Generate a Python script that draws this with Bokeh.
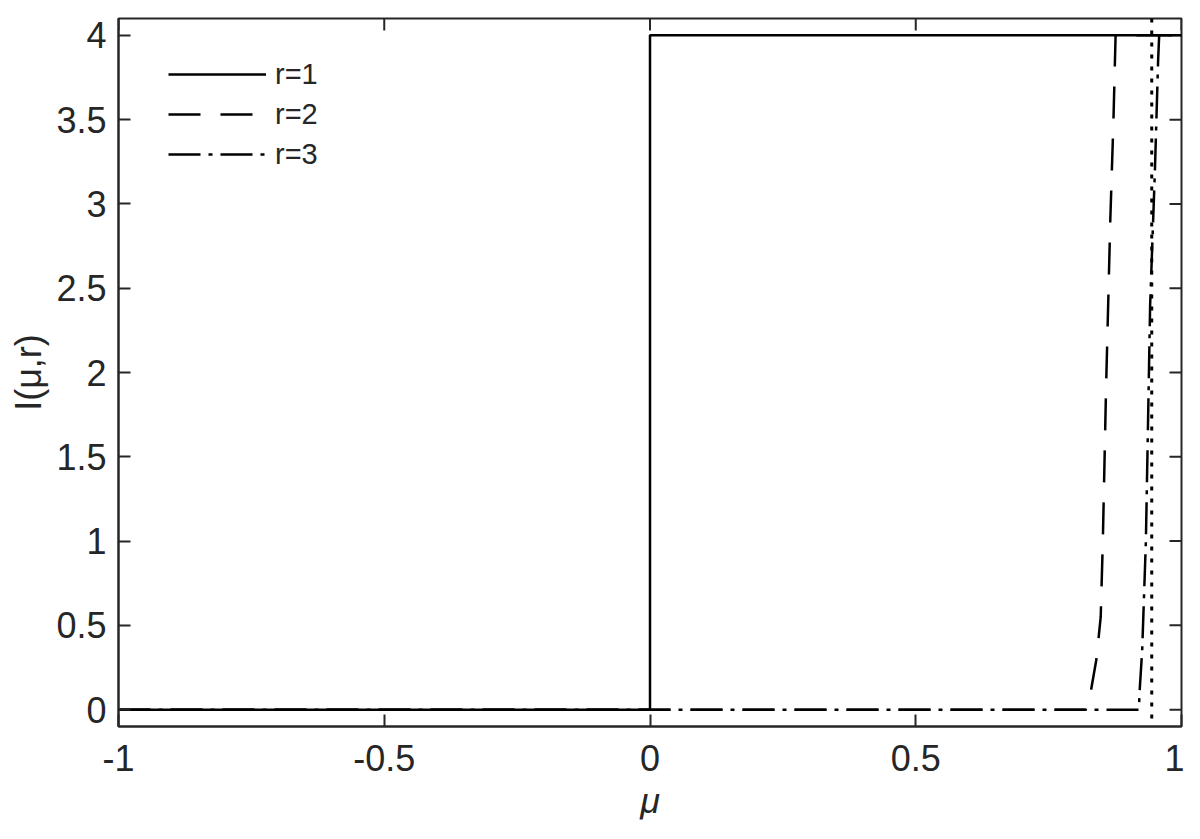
import math
from bokeh.plotting import figure
from bokeh.models import Range1d, Span, Legend, LegendItem, FixedTicker
from bokeh.embed import file_html
from bokeh.resources import INLINE

# data
mu_r1 = [-1.0, 0.0, 0.0, 1.0]
I_r1 = [0.0, 0.0, 4.0, 4.0]
mu_r2 = [-1.0, 0.820, 0.830, 0.840, 0.848, 0.852, 0.858, 0.866, 0.872, 0.876, 1.0]
I_r2 = [0.0, 0.0, 0.12, 0.30, 0.55, 1.0, 1.9, 2.9, 3.5, 4.0, 4.0]
mu_r3 = [-1.0, 0.920, 0.921, 0.926, 0.933, 0.941, 0.950, 0.956, 0.958, 1.0]
I_r3 = [0.0, 0.0, 0.10, 0.35, 1.0, 2.4, 3.2, 3.85, 4.0, 4.0]
mu_crit = 0.944
x_ticks = [-1, -0.5, 0, 0.5, 1]
y_ticks = [0, 0.5, 1, 1.5, 2, 2.5, 3, 3.5, 4]
labels = ["r=1", "r=2", "r=3"]
x_min, x_max = -1.0, 1.0
y_min, y_max = -0.1, 4.1

FONT = "Liberation Sans"
INK = "#262626"

p = figure(width=1184, height=823, output_backend="svg", toolbar_location=None,
           x_range=Range1d(x_min, x_max), y_range=Range1d(y_min, y_max),
           min_border_left=118, min_border_right=3, min_border_top=18, min_border_bottom=92)
p.grid.visible = False
p.background_fill_color = "white"
p.border_fill_color = "white"
p.outline_line_color = INK
p.outline_line_width = 2

for ax in [p.xaxis[0], p.yaxis[0]]:
    ax.major_tick_in = 12
    ax.major_tick_out = 0
    ax.minor_tick_line_color = None
    ax.axis_line_color = INK
    ax.axis_line_width = 2
    ax.major_tick_line_color = INK
    ax.major_tick_line_width = 2
    ax.major_label_text_font = FONT
    ax.major_label_text_font_size = "36px"
    ax.major_label_text_color = INK
    ax.axis_label_text_font = FONT
    ax.axis_label_text_font_size = "36px"
    ax.axis_label_text_color = INK

p.xaxis[0].ticker = FixedTicker(ticks=x_ticks)
p.yaxis[0].ticker = FixedTicker(ticks=y_ticks)
p.xaxis[0].major_label_overrides = {-1: "-1", -0.5: "-0.5", 0: "0", 0.5: "0.5", 1: "1"}
p.yaxis[0].major_label_overrides = {0: "0", 1: "1", 2: "2", 3: "3", 4: "4"}
p.xaxis[0].axis_label = "μ"
p.xaxis[0].axis_label_text_font_style = "italic"
p.xaxis[0].major_label_standoff = 18
p.xaxis[0].axis_label_standoff = 6
p.yaxis[0].axis_label = "I(μ,r)"
p.yaxis[0].axis_label_text_font_style = "normal"
p.yaxis[0].major_label_standoff = 12
p.yaxis[0].axis_label_standoff = 4

# inward ticks on the top and right edges (markers centred on the frame edge, clipped)
p.scatter([x_max] * len(y_ticks), y_ticks, marker="dash", size=24,
          line_color=INK, line_width=2)
p.scatter(x_ticks, [y_max] * len(x_ticks), marker="dash", size=24, angle=math.pi / 2,
          line_color=INK, line_width=2)

r1 = p.line(mu_r1, I_r1, line_color="black", line_width=2.5)
r2 = p.line(mu_r2, I_r2, line_color="black", line_width=2.5, line_dash="32 20")
r3 = p.line(mu_r3, I_r3, line_color="black", line_width=2.5, line_dash="32 8 4 8")

p.add_layout(Span(location=mu_crit, dimension="height", line_color="black",
                  line_width=3, line_dash="4 8"))

legend = Legend(items=[LegendItem(label=labels[0], renderers=[r1]),
                       LegendItem(label=labels[1], renderers=[r2]),
                       LegendItem(label=labels[2], renderers=[r3])],
                location=(50, 552))
legend.border_line_color = None
legend.background_fill_alpha = 0
legend.label_text_font = FONT
legend.label_text_font_size = "29px"
legend.label_text_color = INK
legend.glyph_width = 98
legend.glyph_height = 40
legend.label_height = 40
legend.spacing = 0
legend.padding = 0
legend.margin = 0
legend.label_standoff = 9
p.add_layout(legend)

open("out.html", "w").write(file_html(p, INLINE))
